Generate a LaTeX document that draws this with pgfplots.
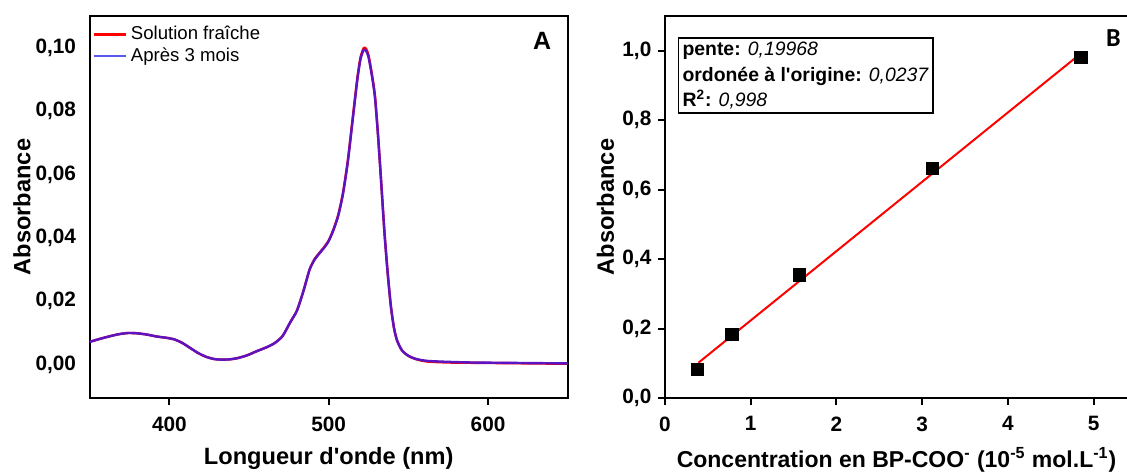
\documentclass[border=0pt]{standalone}
\usepackage{fontspec}
\setmainfont{Liberation Sans}
\newfontfamily\carlito{Carlito}
\usepackage{pgfplots}
\pgfplotsset{compat=1.18}
\definecolor{specpurple}{RGB}{90,20,195}
\definecolor{legblue}{RGB}{90,90,240}
\pgfplotsset{
  common/.style={
    scale only axis, anchor=south west,
    axis line style={line width=1.1pt, black},
    tick style={line width=1pt, black},
    major tick length=3.3pt,
    tick align=outside,
    xtick pos=bottom, ytick pos=left,
    /pgf/number format/assume math mode=true,
    /pgf/number format/use comma,
    every tick label/.append style={font=\bfseries\fontsize{10.4}{12}\selectfont},
    xticklabel style={yshift=-2.5pt},
  }
}
\begin{document}
\begin{tikzpicture}
\useasboundingbox (0,0) rectangle (563.5pt,235.5pt);
\begin{axis}[common,
  at={(44.85pt,36.5pt)},
  width=239pt, height=191pt,
  xmin=350, xmax=650, ymin=-0.0105, ymax=0.110,
  xtick={400,500,600}, ytick={0,0.02,0.04,0.06,0.08,0.10},
  ytick style={draw=none},
  yticklabel style={/pgf/number format/.cd, fixed, fixed zerofill, precision=2, use comma},
  xticklabel style={/pgf/number format/.cd, fixed, precision=0},
  xlabel={Longueur d\textquotesingle onde (nm)},
  ylabel={Absorbance},
  every axis x label/.style={at={(axis description cs:0.5,-0.157)}, anchor=center, font=\bfseries\fontsize{11.8}{13}\selectfont},
  every axis y label/.style={at={(axis description cs:-0.1416,0.5)}, rotate=90, anchor=center, font=\bfseries\fontsize{11.8}{13}\selectfont},
  legend style={at={(0.005,0.985)}, anchor=north west, draw=none, fill=none,
    font=\fontsize{9.3}{11}\selectfont, row sep=-1.5pt, inner sep=0pt},
  legend cell align=left,
  legend image code/.code={\draw[#1] (0pt,0pt) -- (16pt,0pt);},
]
\addplot[red, line width=1.2pt, forget plot, smooth, tension=0.4] coordinates {
(350,0.0072) (356,0.0081) (362,0.0089) (368,0.0096) (374,0.0100) (380,0.0099)
(386,0.0095) (392,0.0089) (398,0.0085) (403,0.0080) (408,0.0069) (413,0.0053)
(418,0.0037) (423,0.0025) (428,0.0018) (433,0.0016) (438,0.0017) (443,0.0021)
(449,0.0030) (455,0.0043) (461,0.0055) (466,0.0068) (471,0.0090) (476,0.0135)
(480,0.0170) (484,0.0230) (488,0.0300) (491,0.0332) (494,0.0352) (497,0.0370)
(500,0.0392) (503,0.0427) (506,0.0473) (509,0.0543) (512,0.0644) (515,0.0775)
(518,0.0905) (520,0.0970) (522,0.0999) (523.5,0.0996) (525,0.0976) (527,0.0920)
(529,0.0850) (531,0.0722) (533,0.0572) (535,0.0418) (537,0.0291) (539,0.0186)
(541,0.0115) (543,0.0075) (546,0.0045) (550,0.0028) (555,0.0017) (562,0.0010)
(575,0.0007) (590,0.0006) (610,0.0005) (630,0.0004) (650,0.0003)};
\addplot[specpurple, line width=1.2pt, forget plot, smooth, tension=0.4] coordinates {
(350,0.0072) (356,0.0081) (362,0.0089) (368,0.0096) (374,0.0100) (380,0.0099)
(386,0.0095) (392,0.0089) (398,0.0085) (403,0.0080) (408,0.0069) (413,0.0053)
(418,0.0037) (423,0.0025) (428,0.0018) (433,0.0016) (438,0.0017) (443,0.0021)
(449,0.0030) (455,0.0043) (461,0.0055) (466,0.0068) (471,0.0090) (476,0.0135)
(480,0.0170) (484,0.0230) (488,0.0300) (491,0.0330) (494,0.0350) (497,0.0368)
(500,0.0390) (503,0.0425) (506,0.0470) (509,0.0540) (512,0.0640) (515,0.0770)
(518,0.0900) (520,0.0965) (522,0.0993) (523.5,0.0990) (525,0.0970) (527,0.0915)
(529,0.0845) (531,0.0720) (533,0.0570) (535,0.0416) (537,0.0290) (539,0.0185)
(541,0.0115) (543,0.0075) (546,0.0045) (550,0.0028) (555,0.0018) (562,0.0012)
(575,0.0009) (590,0.0007) (610,0.0006) (630,0.0005) (650,0.0004)};
\addlegendimage{red, line width=1.2pt}
\addlegendentry{Solution fraîche}
\addlegendimage{legblue, line width=1.2pt}
\addlegendentry{Après 3 mois}
\node[font=\bfseries\fontsize{12.5}{14}\selectfont] at (axis cs:634,0.102) {A};
\end{axis}

\begin{axis}[common,
  at={(332.5pt,36.5pt)},
  width=231.5pt, height=191pt,
  xmin=0, xmax=5.4, ymin=0, ymax=1.1,
  xtick={0,1,2,3,4,5}, ytick={0,0.2,0.4,0.6,0.8,1.0},
  yticklabel style={/pgf/number format/.cd, fixed, fixed zerofill, precision=1, use comma},
  xticklabel style={/pgf/number format/.cd, fixed, precision=0},
  xlabel={Concentration en BP-COO\textsuperscript{-} (10\textsuperscript{-5} mol.L\textsuperscript{-1})},
  ylabel={Absorbance},
  every axis x label/.style={at={(axis description cs:0.5,-0.162)}, anchor=center, font=\bfseries\fontsize{11.5}{13}\selectfont},
  every axis y label/.style={at={(axis description cs:-0.1285,0.5)}, rotate=90, anchor=center, font=\bfseries\fontsize{11.8}{13}\selectfont},
]
\addplot[red, line width=1pt] coordinates {(0.39,0.1016) (4.85,0.9921)};
\addplot[only marks, mark=square*, mark size=3.1pt, black] coordinates {
(0.38,0.082) (0.78,0.183) (1.57,0.355) (3.12,0.661) (4.85,0.981)};
\node[draw, line width=0.9pt, anchor=north west, align=left, inner sep=2pt,
  font=\fontsize{9.7}{12.9}\selectfont] at (axis cs:0.147,1.040)
  {\textbf{pente:} \textit{0,19968}\\
   \textbf{ordonée à l\textquotesingle origine:} \textit{0,0237}\\
   \textbf{R\textsuperscript{2}:} \textit{0,998}};
\node[font=\carlito\bfseries\fontsize{13}{15}\selectfont] at (axis cs:5.23,1.035) {B};
\end{axis}
\end{tikzpicture}
\end{document}
